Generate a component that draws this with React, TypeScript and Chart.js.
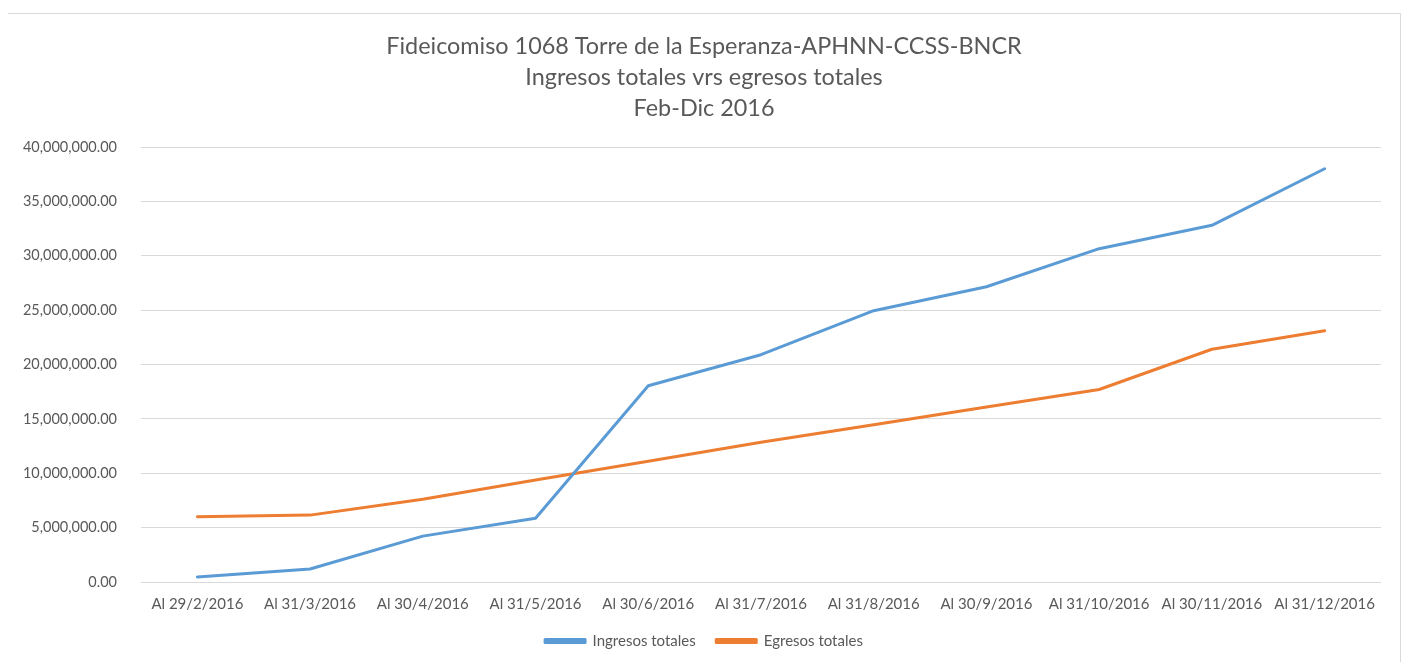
import { useEffect, useRef } from "react";
import { Chart, registerables } from "chart.js";

Chart.register(...registerables);

const categories = [
  "Al 29/2/2016",
  "Al 31/3/2016",
  "Al 30/4/2016",
  "Al 31/5/2016",
  "Al 30/6/2016",
  "Al 31/7/2016",
  "Al 31/8/2016",
  "Al 30/9/2016",
  "Al 31/10/2016",
  "Al 30/11/2016",
  "Al 31/12/2016",
];

const ingresosTotales = [
  460000, 1200000, 4220000, 5870000, 18050000, 20900000, 24950000, 27150000, 30650000, 32800000, 38000000,
];

const egresosTotales = [
  6000000, 6150000, 7600000, 9380000, 11100000, 12850000, 14450000, 16100000, 17700000, 21400000, 23100000,
];

const seriesNames = ["Ingresos totales", "Egresos totales"];

const titleLines = [
  "Fideicomiso 1068 Torre de la Esperanza-APHNN-CCSS-BNCR",
  "Ingresos totales vrs egresos totales",
  "Feb-Dic 2016",
];

const yMin = 0;
const yMax = 40000000;
const yStep = 5000000;

const FONT = "Lato, 'Open Sans', sans-serif";
const TEXT = "#595959";

function fmt(v: number): string {
  return Number(v).toLocaleString("en-US", {
    minimumFractionDigits: 2,
    maximumFractionDigits: 2,
  });
}

export default function App() {
  const ref = useRef<HTMLCanvasElement>(null);

  useEffect(() => {
    if (!ref.current) return;
    const chart = new Chart(ref.current, {
      type: "line",
      data: {
        labels: categories,
        datasets: [
          {
            label: seriesNames[0],
            data: ingresosTotales,
            borderColor: "#5B9BD5",
            backgroundColor: "#5B9BD5",
            borderWidth: 3,
            pointRadius: 0,
            borderCapStyle: "round",
            borderJoinStyle: "round",
            tension: 0,
            yAxisID: "y",
          },
          {
            label: seriesNames[1],
            data: egresosTotales,
            borderColor: "#ED7D31",
            backgroundColor: "#ED7D31",
            borderWidth: 3,
            pointRadius: 0,
            borderCapStyle: "round",
            borderJoinStyle: "round",
            tension: 0,
            yAxisID: "y",
          },
        ],
      },
      options: {
        animation: false,
        responsive: true,
        maintainAspectRatio: false,
        layout: { padding: { left: 0, right: 0, top: 17, bottom: 3.5 } },
        plugins: {
          title: {
            display: true,
            text: titleLines,
            color: TEXT,
            font: { family: FONT, size: 23.4, weight: "normal", lineHeight: 31 / 23.4 },
            padding: { top: 0, bottom: 23 },
          },
          legend: {
            display: true,
            position: "bottom",
            labels: {
              boxWidth: 40,
              boxHeight: 3,
              padding: 20.5,
              color: TEXT,
              font: { family: FONT, size: 15 },
            },
          },
          tooltip: { enabled: false },
        },
        scales: {
          x: {
            offset: true,
            grid: { display: false, drawTicks: false },
            border: { display: false },
            ticks: {
              color: TEXT,
              font: { family: FONT, size: 15 },
              padding: 13,
              maxRotation: 0,
              autoSkip: false,
            },
            afterFit: (s: any) => {
              s.height = 31;
            },
          },
          y: {
            type: "linear",
            position: "left",
            min: yMin,
            max: yMax,
            grid: { color: "#d9d9d9", lineWidth: 1, drawTicks: false },
            border: { display: false },
            ticks: {
              stepSize: yStep,
              color: TEXT,
              font: { family: FONT, size: 14.5 },
              padding: 24,
              callback: (v: any) => fmt(Number(v)),
            },
            afterFit: (s: any) => {
              s.width = 133;
            },
          },
          yRight: {
            type: "linear",
            axis: "y",
            position: "right",
            display: true,
            grid: { display: false, drawTicks: false },
            border: { display: false },
            ticks: { display: false },
            afterFit: (s: any) => {
              s.width = 19;
            },
          },
        },
      },
    });
    return () => chart.destroy();
  }, []);

  return (
    <div style={{ position: "relative", width: 1394, height: 654, overflow: "hidden" }}>
      <div
        style={{
          position: "absolute",
          left: -1,
          top: 5,
          width: 1392,
          height: 700,
          border: "1px solid #d9d9d9",
          background: "#fff",
        }}
      >
        <div style={{ position: "relative", width: 1392, height: 648 }}>
          <canvas ref={ref} />
        </div>
      </div>
    </div>
  );
}
